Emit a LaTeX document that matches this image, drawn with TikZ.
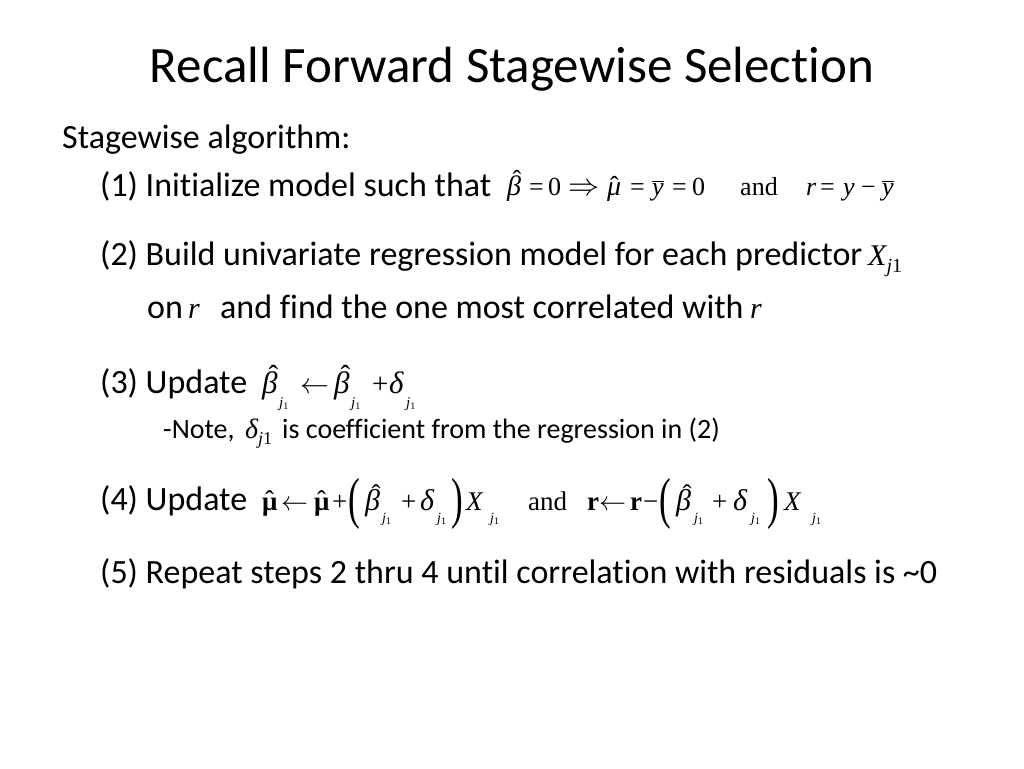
\documentclass[tikz,border=0pt]{standalone}
\usepackage{fix-cm}
\usepackage{fontspec}
\usepackage{graphicx}
\setmainfont{Carlito}[Ligatures={NoCommon}]
\newfontfamily\tms{Liberation Serif}
% absolute placement inside a formula node
\newcommand\pp[2]{\rlap{\hspace*{#1pt}#2}}
% letter with a circumflex: #1 letter, #2 x offset, #3 raise
\newcommand\hatg[3]{\rlap{\hspace*{#2}\raisebox{#3}{\upshape ˆ}}#1}
\newcommand\hb[3]{\hatg{\fontsize{#3}{#3}\selectfont\itshape β}{#1}{#2}}
\newcommand\dl[1]{{\fontsize{#1}{#1}\selectfont\itshape δ}}
\newcommand\jsub[3]{\raisebox{-#3}{\fontsize{#1}{#1}\selectfont\itshape j\raisebox{-2pt}{\fontsize{#2}{#2}\selectfont\upshape 1}}}
\newcommand\bigp[1]{\raisebox{-7pt}{\scalebox{1.3}[2.09]{#1}}}
\newcommand\ybar{$\overline{\hbox{\itshape y}}$}
\begin{document}
\begin{tikzpicture}[x=1pt,y=-1pt,
  ttl/.style={anchor=base,inner sep=0pt,font=\fontsize{51}{56}\selectfont},
  txt/.style={anchor=base west,inner sep=0pt,font=\fontsize{34}{40}\selectfont},
  small/.style={anchor=base west,inner sep=0pt,font=\fontsize{28}{32}\selectfont},
  mth/.style={anchor=base west,inner sep=0pt,font=\fontsize{26}{30}\selectfont\tms},
  mthb/.style={anchor=base west,inner sep=0pt,font=\fontsize{29}{32}\selectfont\tms},
  mthc/.style={anchor=base west,inner sep=0pt,font=\fontsize{27}{30}\selectfont\tms},
  var/.style={anchor=base west,inner sep=0pt,font=\fontsize{30}{30}\selectfont\tms\itshape}]
\useasboundingbox[fill=white] (0,0) rectangle (1024,768);
\node[ttl] (title) at (512,82) {Recall Forward Stagewise Selection};
\node[txt] (head) at (62,148) {Stagewise algorithm:};
% (1)
\node[txt] (l1) at (100,196) {(1) Initialize model such that};
\node[mth] (m1a) at (505,195) {\pp{2}{\hb{5.5pt}{7pt}{28}}\pp{24}{=}\pp{43}{0}\pp{63}{\scalebox{1.2}{$\Rightarrow$}}\pp{102}{\hatg{\fontsize{28}{28}\selectfont\itshape μ}{3pt}{0.5pt}}\pp{125}{=}\pp{147}{\ybar}\pp{167}{=}\pp{187}{0}\hspace*{203pt}};
\node[mth] (m1b) at (740,195) {and};
\node[mth] (m1c) at (806,195) {\pp{0}{\itshape r}\pp{14}{=}\pp{37}{\itshape y}\pp{55}{−}\pp{76}{\ybar}\hspace*{94pt}};
% (2)
\node[txt] (l2) at (100,265) {(2) Build univariate regression model for each predictor};
\node[var] (x2) at (868,265) {X\raisebox{-7pt}{\fontsize{20}{20}\selectfont j\upshape 1}};
\node[txt] (l2b) at (147,318) {on};
\node[var] (r2a) at (188,318) {r};
\node[txt] (l2c) at (220,318) {and find the one most correlated with};
\node[var] (r2b) at (750,318) {r};
% (3)
\node[txt] (l3) at (100,393) {(3) Update};
\node[mthb] (m3) at (262,393) {\pp{0}{\hb{6.5pt}{7.5pt}{31}}\pp{17}{\jsub{15}{10}{14pt}}\pp{38}{$\leftarrow$}\pp{72}{\hb{6.5pt}{7.5pt}{31}}\pp{89}{\jsub{15}{10}{14pt}}\pp{110}{+}\pp{127}{\dl{31}}\pp{144}{\jsub{15}{10}{14pt}}\hspace*{152pt}};
\node[small] (n3a) at (163,438) {-Note,};
\node[anchor=base west,inner sep=0pt,font=\fontsize{28}{28}\selectfont\tms\itshape] (n3d) at (245,438) {δ\raisebox{-6pt}{\fontsize{18}{18}\selectfont j\upshape 1}};
\node[small] (n3b) at (282,438) {is coefficient from the regression in (2)};
% (4)
\node[txt] (l4) at (100,510) {(4) Update};
\node[mthc] (m4a) at (262,510) {\pp{0}{\hatg{\bfseries μ}{3pt}{0.5pt}}\pp{19}{$\leftarrow$}\pp{52}{\hatg{\bfseries μ}{3pt}{0.5pt}}\pp{70}{+}\pp{86}{\bigp{(}}\pp{103}{\hb{6.5pt}{7pt}{30}}\pp{120}{\jsub{14}{10}{12pt}}\pp{139}{+}\pp{158}{\dl{30}}\pp{175}{\jsub{14}{10}{12pt}}\pp{189}{\bigp{)}}\pp{204}{\itshape X}\pp{228}{\jsub{14}{10}{12pt}}\hspace*{240pt}};
\node[mthc] (m4b) at (528,510) {and};
\node[mthc] (m4c) at (587,510) {\pp{0}{\bfseries r}\pp{12}{$\leftarrow$}\pp{43}{\bfseries r}\pp{56}{−}\pp{72}{\bigp{(}}\pp{89}{\hb{6.5pt}{7pt}{30}}\pp{107}{\jsub{14}{10}{12pt}}\pp{125}{+}\pp{146}{\dl{30}}\pp{164}{\jsub{14}{10}{12pt}}\pp{180}{\bigp{)}}\pp{197}{\itshape X}\pp{225}{\jsub{14}{10}{12pt}}\hspace*{237pt}};
% (5)
\node[txt] (l5) at (100,583) {(5) Repeat steps 2 thru 4 until correlation with residuals is \textasciitilde 0};
\end{tikzpicture}
\end{document}
